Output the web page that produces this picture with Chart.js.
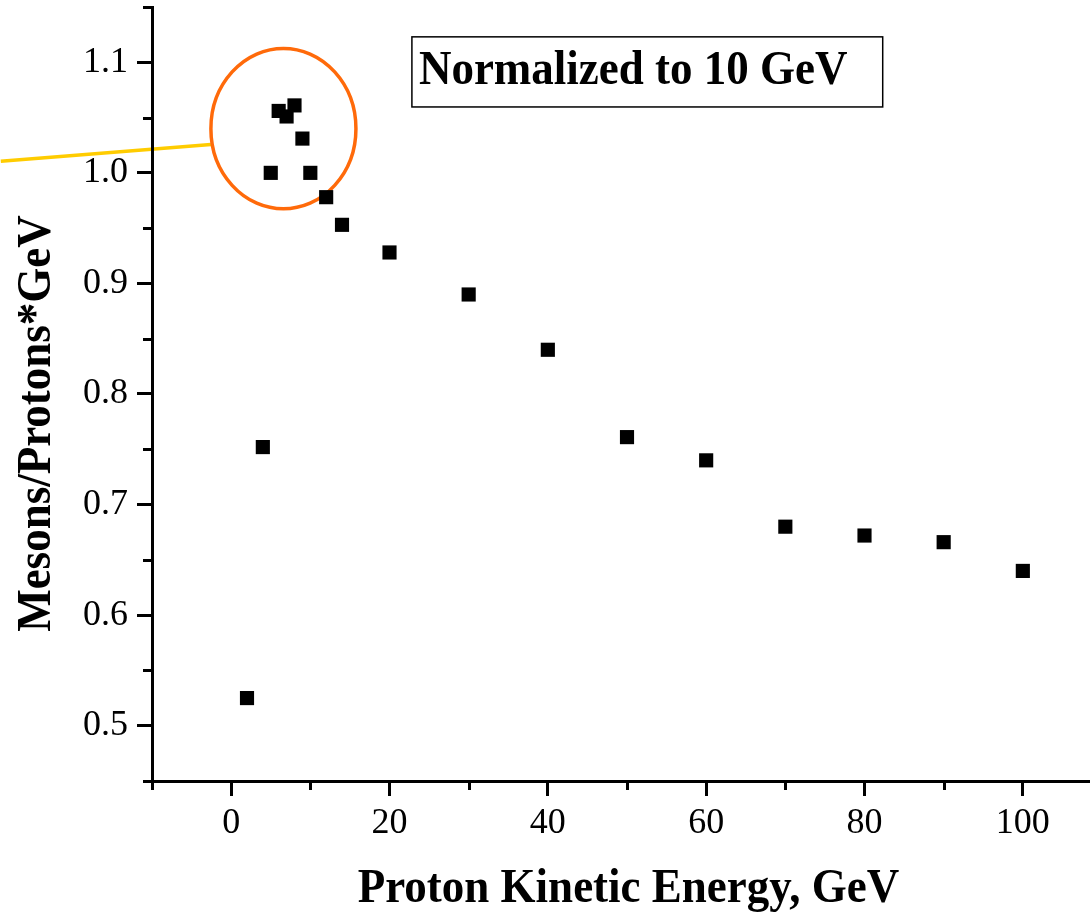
<!DOCTYPE html>
<html>
<head>
<meta charset="utf-8">
<script src="https://cdn.jsdelivr.net/npm/chart.js@4/dist/chart.umd.min.js"></script>
<style>
  html, body { margin: 0; padding: 0; background: #fff; overflow: hidden; }
  #wrap { width: 1102px; height: 912px; }
</style>
</head>
<body>
<div id="wrap"><canvas id="c" width="1102" height="912"></canvas></div>
<script>
// ---- data ----
const energies = [2, 4, 5, 6, 7, 8, 9, 10, 12, 14, 20, 30, 40, 50, 60, 70, 80, 90, 100];
const ratios   = [0.525, 0.752, 1.000, 1.056, 1.051, 1.061, 1.031, 1.000, 0.978, 0.953,
                  0.928, 0.890, 0.840, 0.761, 0.740, 0.680, 0.672, 0.666, 0.640];

const X_MAJOR_TICKS = [0, 20, 40, 60, 80, 100];
const X_MINOR_TICKS = [-10, 10, 30, 50, 70, 90, 110];
const Y_MAJOR_TICKS = [0.5, 0.6, 0.7, 0.8, 0.9, 1.0, 1.1];
const Y_MINOR_TICKS = [0.45, 0.55, 0.65, 0.75, 0.85, 0.95, 1.05, 1.15];

const X_TITLE = 'Proton Kinetic Energy, GeV';
const Y_TITLE = 'Mesons/Protons*GeV';
const NOTE_TEXT = 'Normalized to 10 GeV';

// annotations (data coordinates)
const ELLIPSE = { cx: 6.6, cy: 1.040, rx: 9.16, ry: 0.0725 };
const POINTER = { x1: -29.1, y1: 1.0106, x2: -2.56, y2: 1.0257 };
const NOTE_BOX = { x1: 22.83, x2: 82.3, y1: 1.123, y2: 1.0596 };

const SERIF = '"Liberation Serif", "Times New Roman", serif';

const points = energies.map((e, i) => ({ x: e, y: ratios[i] }));

function zeroPad(scale) {
  scale.paddingTop = 0; scale.paddingBottom = 0;
  scale.paddingLeft = 0; scale.paddingRight = 0;
}

const decor = {
  id: 'decor',
  beforeDraw(chart) {
    const { ctx, scales: { x, y } } = chart;
    ctx.save();
    ctx.strokeStyle = '#ffcc00';
    ctx.lineWidth = 3.5;
    ctx.beginPath();
    ctx.moveTo(x.getPixelForValue(POINTER.x1), y.getPixelForValue(POINTER.y1));
    ctx.lineTo(x.getPixelForValue(POINTER.x2), y.getPixelForValue(POINTER.y2));
    ctx.stroke();
    ctx.restore();
  },
  beforeDatasetsDraw(chart) {
    const { ctx, scales: { x, y } } = chart;
    const cx = x.getPixelForValue(ELLIPSE.cx), cy = y.getPixelForValue(ELLIPSE.cy);
    const rx = Math.abs(x.getPixelForValue(ELLIPSE.cx + ELLIPSE.rx) - cx);
    const ry = Math.abs(y.getPixelForValue(ELLIPSE.cy + ELLIPSE.ry) - cy);
    ctx.save();
    ctx.strokeStyle = '#ff6a0a';
    ctx.lineWidth = 3.5;
    ctx.beginPath();
    ctx.ellipse(cx, cy, rx, ry, 0, 0, Math.PI * 2);
    ctx.stroke();
    ctx.restore();
  },
  afterDraw(chart) {
    const { ctx, chartArea, scales: { x, y } } = chart;
    ctx.save();
    // minor ticks
    ctx.strokeStyle = '#000';
    ctx.lineWidth = 3;
    ctx.beginPath();
    X_MINOR_TICKS.forEach(v => {
      const px = Math.round(x.getPixelForValue(v)) + 0.5;
      ctx.moveTo(px, chartArea.bottom); ctx.lineTo(px, chartArea.bottom + 9);
    });
    Y_MINOR_TICKS.forEach(v => {
      const py = Math.round(y.getPixelForValue(v)) + 0.5;
      ctx.moveTo(chartArea.left, py); ctx.lineTo(chartArea.left - 9, py);
    });
    ctx.stroke();

    ctx.fillStyle = '#000';
    // note box
    const bx1 = x.getPixelForValue(NOTE_BOX.x1), bx2 = x.getPixelForValue(NOTE_BOX.x2);
    const by1 = y.getPixelForValue(NOTE_BOX.y1), by2 = y.getPixelForValue(NOTE_BOX.y2);
    ctx.lineWidth = 1.5;
    ctx.strokeRect(bx1, by1, bx2 - bx1, by2 - by1);
    ctx.font = 'bold 45px ' + SERIF;
    ctx.textAlign = 'left';
    ctx.textBaseline = 'alphabetic';
    ctx.save();
    ctx.translate(bx1 + 7, by1 + 47);
    ctx.scale(1, 1.1);
    ctx.fillText(NOTE_TEXT, 0, 0);
    ctx.restore();

    // x title
    ctx.save();
    ctx.textAlign = 'center';
    ctx.translate((chartArea.left + chartArea.right) / 2 + 1.5, 901.5);
    ctx.scale(1, 1.1);
    ctx.fillText(X_TITLE, 0, 0);
    ctx.restore();

    // y title
    ctx.save();
    ctx.textAlign = 'center';
    ctx.translate(50, (chartArea.top + chartArea.bottom) / 2 + 29.5);
    ctx.rotate(-Math.PI / 2);
    ctx.scale(1, 1.1);
    ctx.fillText(Y_TITLE, 0, 0);
    ctx.restore();

    ctx.restore();
  }
};

new Chart(document.getElementById('c'), {
  type: 'scatter',
  data: {
    datasets: [{
      data: points,
      pointStyle: 'rect',
      pointRadius: 10,
      pointHoverRadius: 10,
      backgroundColor: '#000',
      borderColor: '#000',
      borderWidth: 0
    }]
  },
  options: {
    responsive: false,
    animation: false,
    devicePixelRatio: 1,
    layout: { autoPadding: false, padding: { top: 7, left: 0, right: 0, bottom: 0 } },
    plugins: { legend: { display: false }, tooltip: { enabled: false } },
    scales: {
      x: {
        type: 'linear',
        min: -10, max: 110,
        afterBuildTicks: s => { s.ticks = X_MAJOR_TICKS.map(v => ({ value: v })); },
        afterFit: s => { s.height = 131; zeroPad(s); },
        ticks: {
          color: '#000',
          font: { family: SERIF, size: 36 },
          padding: 6,
          maxRotation: 0,
          callback: v => String(v)
        },
        grid: { drawOnChartArea: false, drawTicks: true, tickLength: 15, color: '#000', lineWidth: 3 },
        border: { display: true, color: '#000', width: 3 }
      },
      y: {
        type: 'linear',
        min: 0.45, max: 1.15,
        afterBuildTicks: s => { s.ticks = Y_MAJOR_TICKS.map(v => ({ value: v })); },
        afterFit: s => { s.width = 152; zeroPad(s); },
        ticks: {
          color: '#000',
          font: { family: SERIF, size: 36 },
          padding: 9,
          callback: v => Number(v).toFixed(1)
        },
        grid: { drawOnChartArea: false, drawTicks: true, tickLength: 15, color: '#000', lineWidth: 3 },
        border: { display: true, color: '#000', width: 3 }
      }
    }
  },
  plugins: [decor]
});
</script>
</body>
</html>
